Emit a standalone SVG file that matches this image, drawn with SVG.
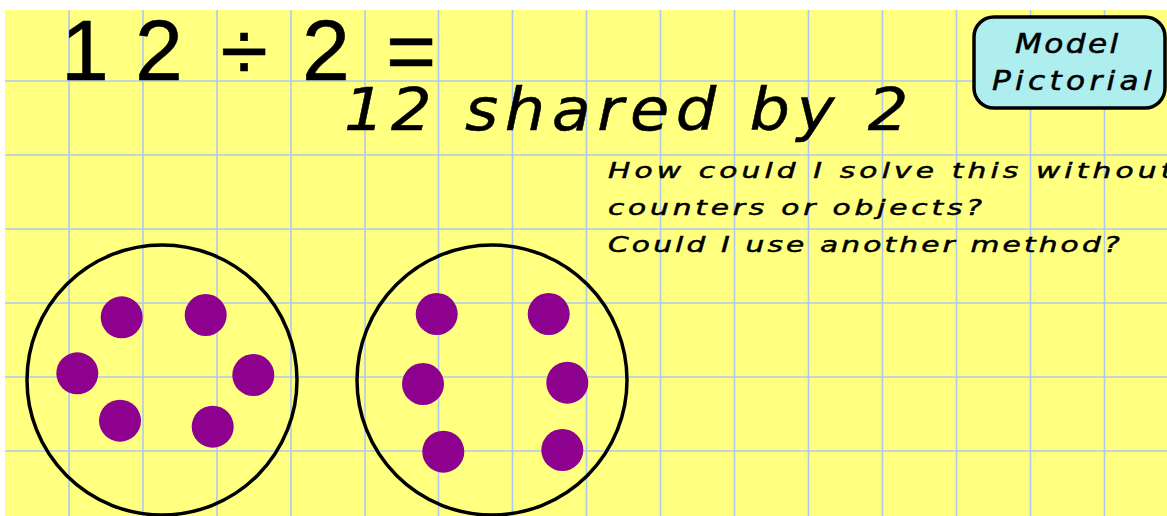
<svg xmlns="http://www.w3.org/2000/svg" width="1167" height="516" viewBox="0 0 1167 516">
<style>
.grid line{stroke:#aec8f0;stroke-width:1.6}
.ring{fill:none;stroke:#000;stroke-width:3.5}
.dot{fill:#8e008e}
.sans{font-family:"Liberation Sans","Noto Sans",sans-serif;fill:#000;stroke:#000;stroke-width:0.6}
.cur{font-family:"DejaVu Sans","Noto Sans",sans-serif;font-style:italic;fill:#000;stroke:#000;stroke-width:0.5}
</style>
<rect width="1167" height="516" fill="#ffffff"/>
<rect x="5" y="10" width="1162" height="506" fill="#ffff80"/>
<g class="grid">
<line x1="5" y1="81" x2="1167" y2="81"/>
<line x1="5" y1="155" x2="1167" y2="155"/>
<line x1="5" y1="229" x2="1167" y2="229"/>
<line x1="5" y1="303" x2="1167" y2="303"/>
<line x1="5" y1="377" x2="1167" y2="377"/>
<line x1="5" y1="451" x2="1167" y2="451"/>
<line x1="69" y1="10" x2="69" y2="516"/>
<line x1="143" y1="10" x2="143" y2="516"/>
<line x1="217" y1="10" x2="217" y2="516"/>
<line x1="291" y1="10" x2="291" y2="516"/>
<line x1="365" y1="10" x2="365" y2="516"/>
<line x1="438.5" y1="10" x2="438.5" y2="516"/>
<line x1="512.5" y1="10" x2="512.5" y2="516"/>
<line x1="586.5" y1="10" x2="586.5" y2="516"/>
<line x1="660.5" y1="10" x2="660.5" y2="516"/>
<line x1="734.5" y1="10" x2="734.5" y2="516"/>
<line x1="808.5" y1="10" x2="808.5" y2="516"/>
<line x1="882.5" y1="10" x2="882.5" y2="516"/>
<line x1="956.5" y1="10" x2="956.5" y2="516"/>
<line x1="1030.5" y1="10" x2="1030.5" y2="516"/>
<line x1="1104.5" y1="10" x2="1104.5" y2="516"/>
</g>
<g id="title">
<text class="sans" font-size="86" text-anchor="middle" y="80" x="85 120 159 200 244 285 326 370 411">1 2 ÷ 2 =</text>
</g>
<g id="subtitle">
<text class="cur" font-size="58" transform="translate(344,130) scale(1.1,1)" x="0" y="0" textLength="513" lengthAdjust="spacing">12 shared by 2</text>
</g>
<g id="label">
<rect x="974" y="17" width="191" height="91" rx="20" ry="20" fill="#aeeeee" stroke="#000" stroke-width="3.5"/>
<text class="cur" font-size="26" transform="translate(1015,53) scale(1.2,1)" x="0" y="0" textLength="86" lengthAdjust="spacing">Model</text>
<text class="cur" font-size="26" transform="translate(992,90) scale(1.2,1)" x="0" y="0" textLength="133" lengthAdjust="spacing">Pictorial</text>
</g>
<g id="question">
<text class="cur" font-size="22" transform="translate(608,178) scale(1.35,1)" x="0" y="0" textLength="418" lengthAdjust="spacing">How could I solve this without</text>
<text class="cur" font-size="22" transform="translate(608,215) scale(1.35,1)" x="0" y="0" textLength="277" lengthAdjust="spacing">counters or objects?</text>
<text class="cur" font-size="22" transform="translate(608,252) scale(1.35,1)" x="0" y="0" textLength="379" lengthAdjust="spacing">Could I use another method?</text>
</g>
<g id="group1">
<circle class="ring" cx="162" cy="380" r="135"/>
<circle class="dot" cx="121.7" cy="317.3" r="21"/>
<circle class="dot" cx="205.7" cy="315" r="21"/>
<circle class="dot" cx="77.3" cy="373.3" r="21"/>
<circle class="dot" cx="253.3" cy="375" r="21"/>
<circle class="dot" cx="120" cy="420.7" r="21"/>
<circle class="dot" cx="212.7" cy="426.7" r="21"/>
</g>
<g id="group2">
<circle class="ring" cx="492" cy="380" r="135"/>
<circle class="dot" cx="436.7" cy="314" r="21"/>
<circle class="dot" cx="548.7" cy="314" r="21"/>
<circle class="dot" cx="423" cy="384" r="21"/>
<circle class="dot" cx="567.3" cy="382.7" r="21"/>
<circle class="dot" cx="443.3" cy="451.7" r="21"/>
<circle class="dot" cx="562.3" cy="450" r="21"/>
</g>
<g id="connectors"/>
</svg>
